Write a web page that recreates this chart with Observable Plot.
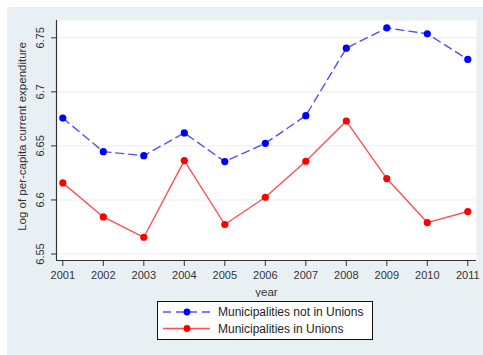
<!DOCTYPE html>
<html>
<head>
<meta charset="utf-8">
<script src="https://cdn.jsdelivr.net/npm/d3@7"></script>
<script src="https://cdn.jsdelivr.net/npm/@observablehq/plot@0.6"></script>
<style>
  body { margin: 0; background: #ffffff; font-family: "Liberation Sans", Arial, sans-serif; }
  #wrap { position: absolute; left: 7px; top: 7px; width: 476px; height: 348px; background: #e9f0f3; }
  #legend { position: absolute; left: 150px; top: 294px; }
</style>
</head>
<body>
<div id="wrap"><div id="chart"></div><div id="legend"></div></div>
<script>
const years = [2001, 2002, 2003, 2004, 2005, 2006, 2007, 2008, 2009, 2010, 2011];
const notInUnions = [6.6757, 6.6447, 6.641, 6.662, 6.6355, 6.6524, 6.678, 6.7404, 6.7592, 6.7537, 6.730];
const inUnions = [6.6158, 6.5843, 6.5655, 6.6364, 6.5773, 6.6025, 6.6358, 6.673, 6.6198, 6.5791, 6.5893];
const yTicks = [6.55, 6.6, 6.65, 6.7, 6.75];
const seriesNames = ["Municipalities not in Unions", "Municipalities in Unions"];

const blue = years.map((year, i) => ({year, value: notInUnions[i]}));
const red = years.map((year, i) => ({year, value: inUnions[i]}));

const fmt = d => String(+d.toFixed(2));

const chart = Plot.plot({
  width: 476,
  height: 290,
  marginLeft: 49,
  marginRight: 7,
  marginTop: 13,
  marginBottom: 37,
  style: {fontFamily: "'Liberation Sans', Arial, sans-serif", fontSize: "11px", background: "transparent", color: "#222"},
  x: {domain: [2000.844, 2011.215]},
  y: {domain: [6.544, 6.766]},
  marks: [
    Plot.frame({fill: "white", stroke: "none"}),
    Plot.gridY(yTicks, {stroke: "#e6eef1", strokeOpacity: 1, strokeWidth: 1}),
    Plot.axisY(yTicks, {tickFormat: fmt, tickRotate: -90, tickSize: 5, tickPadding: 8, label: null, stroke: "#333", fill: "#333"}),
    Plot.axisX(years, {tickFormat: d => String(d), tickSize: 6, tickPadding: 5, label: null, stroke: "#333", fill: "#333"}),
    Plot.ruleX([2000.844], {stroke: "#333", strokeWidth: 1.2}),
    Plot.ruleY([6.544], {stroke: "#333", strokeWidth: 1.2}),
    Plot.text(["Log of per-capita current expenditure"], {frameAnchor: "left", textAnchor: "middle", dx: -34, dy: -4, rotate: -90, fontSize: 11.5, fill: "#333"}),
    Plot.text(["year"], {frameAnchor: "bottom", dy: 35, fontSize: 11.5, fill: "#333"}),
    Plot.line(blue, {x: "year", y: "value", stroke: "#5050ff", strokeWidth: 1.4, strokeDasharray: "8,5"}),
    Plot.dot(blue, {x: "year", y: "value", r: 3.6, fill: "#0000ff", stroke: "none"}),
    Plot.line(red, {x: "year", y: "value", stroke: "#ff5050", strokeWidth: 1.4}),
    Plot.dot(red, {x: "year", y: "value", r: 3.6, fill: "#ff0000", stroke: "none"})
  ]
});
document.getElementById("chart").appendChild(chart);

// Legend
const lg = d3.select("#legend").append("svg").attr("width", 217).attr("height", 40);
lg.append("rect").attr("x", 0.5).attr("y", 0.5).attr("width", 215).attr("height", 38)
  .attr("fill", "white").attr("stroke", "#111").attr("stroke-width", 1);
const rows = [
  {name: seriesNames[0], line: "#5050ff", dot: "#0000ff", dash: "8,5", y: 11},
  {name: seriesNames[1], line: "#ff5050", dot: "#ff0000", dash: null, y: 27.5}
];
rows.forEach(r => {
  const l = lg.append("line").attr("x1", 6).attr("x2", 53).attr("y1", r.y).attr("y2", r.y)
    .attr("stroke", r.line).attr("stroke-width", 1.4);
  if (r.dash) l.attr("stroke-dasharray", r.dash);
  lg.append("circle").attr("cx", 30).attr("cy", r.y).attr("r", 3.4).attr("fill", r.dot);
  lg.append("text").attr("x", 61).attr("y", r.y).attr("dy", "0.35em")
    .attr("font-family", "'Liberation Sans', Arial, sans-serif").attr("font-size", 12).attr("fill", "#222").text(r.name);
});
</script>
</body>
</html>
